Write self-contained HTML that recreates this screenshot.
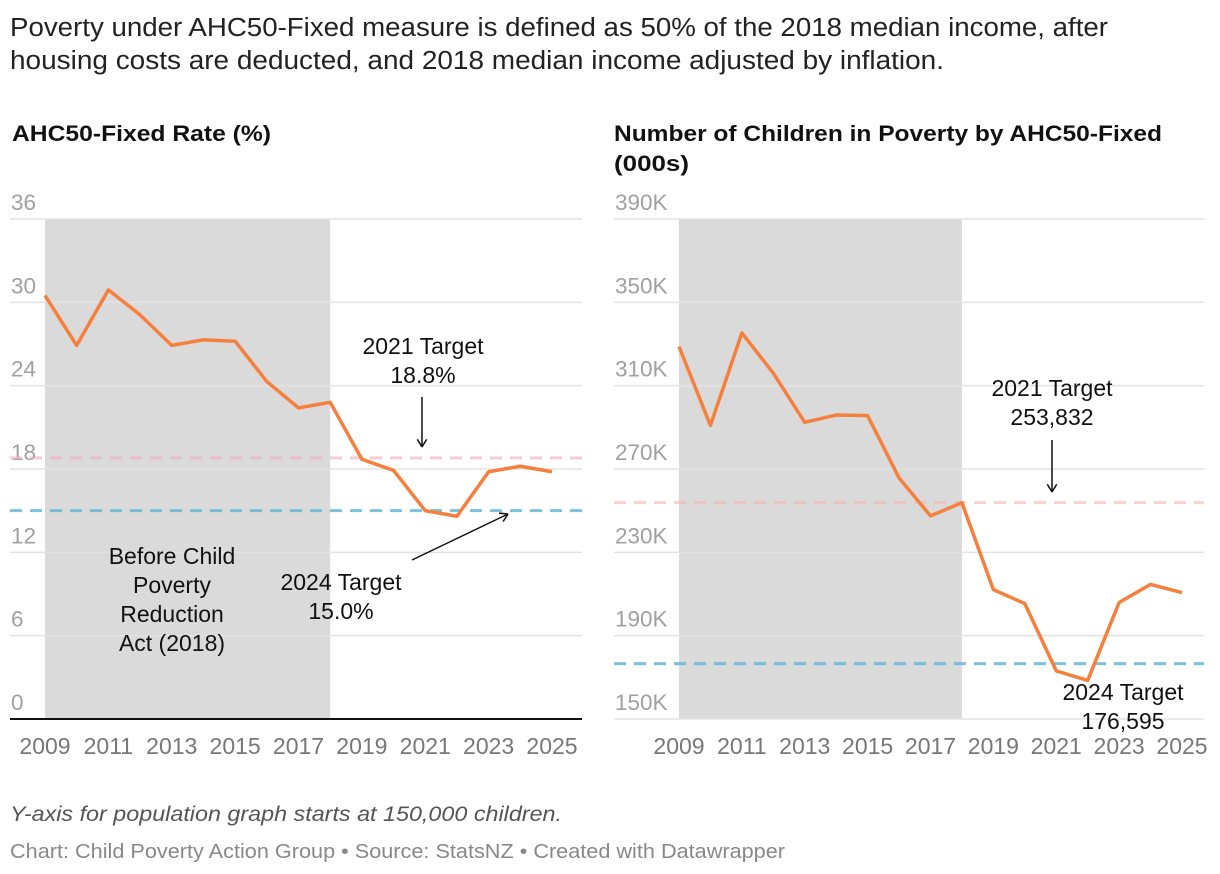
<!DOCTYPE html>
<html><head><meta charset="utf-8"><style>
body{margin:0;background:#fff;font-family:"Liberation Sans",sans-serif;}
svg{display:block}
</style></head><body>
<svg width="1220" height="874">
<text x="10" y="36" font-size="25.5" fill="#222" textLength="1098" lengthAdjust="spacingAndGlyphs">Poverty under AHC50-Fixed measure is defined as 50% of the 2018 median income, after</text>
<text x="10" y="69" font-size="25.5" fill="#222" textLength="934" lengthAdjust="spacingAndGlyphs">housing costs are deducted, and 2018 median income adjusted by inflation.</text>
<text x="12" y="141" font-size="22" font-weight="bold" fill="#111" textLength="259" lengthAdjust="spacingAndGlyphs">AHC50-Fixed Rate (%)</text>
<text x="614" y="141" font-size="22" font-weight="bold" fill="#111" textLength="548" lengthAdjust="spacingAndGlyphs">Number of Children in Poverty by AHC50-Fixed</text>
<text x="614" y="171" font-size="22" font-weight="bold" fill="#111" textLength="75" lengthAdjust="spacingAndGlyphs">(000s)</text>
<g id="left"></g>
<g id="right"></g>
<text x="10" y="821" font-size="21" font-style="italic" fill="#555" textLength="552" lengthAdjust="spacingAndGlyphs">Y-axis for population graph starts at 150,000 children.</text>
<text x="10" y="858" font-size="20" fill="#888" textLength="775" lengthAdjust="spacingAndGlyphs">Chart: Child Poverty Action Group • Source: StatsNZ • Created with Datawrapper</text>
</svg>
<script>
const years=[2009,2010,2011,2012,2013,2014,2015,2016,2017,2018,2019,2020,2021,2022,2023,2024,2025];
const rateValues=[30.5,26.9,30.9,29.1,26.9,27.3,27.2,24.3,22.4,22.8,18.7,17.9,15.0,14.6,17.8,18.2,17.8];
const countValues=[328.8,290.9,335.3,316.0,292.4,295.9,295.6,265.7,247.5,253.8,212.1,205.4,173.1,168.5,205.9,214.6,210.7];
const rateTicks=[0,6,12,18,24,30,36];
const countTicks=[150,190,230,270,310,350,390];
const xTickLabels=[2009,2011,2013,2015,2017,2019,2021,2023,2025];
const rateTargets=[18.8,15.0];
const countTargets=[253.832,176.595];
const NS="http://www.w3.org/2000/svg";
function mk(parent,tag,attrs,text){const e=document.createElementNS(NS,tag);for(const k in attrs)e.setAttribute(k,attrs[k]);if(text!==undefined)e.textContent=text;parent.appendChild(e);return e;}
function draw(gid,cfg){
  const g=document.getElementById(gid);
  const x=y=>cfg.x0+(y-2009)*(cfg.x1-cfg.x0)/16;
  const yS=v=>719-(v-cfg.min)*500/(cfg.max-cfg.min);
  const band=mk(g,'rect',{x:x(2009),y:219,width:x(2018)-x(2009),height:500,fill:'#dadada'});
  
  
  cfg.ticks.forEach(t=>{
    const l=mk(g,'line',{x1:cfg.gl,x2:cfg.gr,y1:yS(t),y2:yS(t),stroke:t===cfg.min&&cfg.base?'#111':'#e3e3e3','stroke-width':t===cfg.min&&cfg.base?2:1.5});
    
    
    const tx=mk(g,'text',{x:cfg.gl+1,y:yS(t)-9,'font-size':22.5,fill:'#a0a0a0'},cfg.fmt(t));
    
    
  });
  xTickLabels.forEach(yr=>{
    const tx=mk(g,'text',{x:x(yr),y:754,'font-size':23,fill:'#777','text-anchor':'middle'},yr);
    
    
  });
  const cols=['rgba(240,170,195,0.6)','rgba(100,185,215,0.85)'];
  if(gid==='right')cols[0]='rgba(250,180,170,0.6)';
  cfg.targets.forEach((t,i)=>{
    const l=mk(g,'line',{x1:cfg.gl,x2:cfg.gr,y1:yS(t),y2:yS(t),stroke:cols[i],'stroke-width':3,'stroke-dasharray':'12 8'});
    
    
  });
  const p=mk(g,'polyline',{points:cfg.vals.map((v,i)=>x(years[i])+','+yS(v)).join(' '),fill:'none',stroke:'#f5803e','stroke-width':3.5,'stroke-linejoin':'round'});
  
  
}
draw('left',{x0:45,x1:552,gl:10,gr:582,min:0,max:36,ticks:rateTicks,vals:rateValues,targets:rateTargets,fmt:t=>t,base:true});
draw('right',{x0:679,x1:1182,gl:614,gr:1204,min:150,max:390,ticks:countTicks,vals:countValues,targets:countTargets,fmt:t=>t+'K',base:false});
const L=document.getElementById('left'),R=document.getElementById('right');
function ann(g,name,lines,cx,y0){lines.forEach((s,i)=>{const t=mk(g,'text',{x:cx,y:y0+i*29,'font-size':23,fill:'#111','text-anchor':'middle'},s);});}
ann(L,'shaded-band-label',['Before Child','Poverty','Reduction','Act (2018)'],172,564);
ann(L,'target-2021-annotation',['2021 Target','18.8%'],423,354);
ann(L,'target-2024-annotation',['2024 Target','15.0%'],341,590);
ann(R,'target-2021-annotation',['2021 Target','253,832'],1052,396);
ann(R,'target-2024-annotation',['2024 Target','176,595'],1123,700);
function arrow(g,x1,y1,x2,y2){const a=mk(g,'g',{});
mk(a,'line',{x1,y1,x2,y2,stroke:'#111','stroke-width':1.5});
const ang=Math.atan2(y2-y1,x2-x1),s=9;
[0.55,-0.55].forEach(d=>mk(a,'line',{x1:x2,y1:y2,x2:x2-s*Math.cos(ang+d),y2:y2-s*Math.sin(ang+d),stroke:'#111','stroke-width':1.5}));}
arrow(L,422,397,422,447);
arrow(L,412,560,508,514);
arrow(R,1052,440,1052,492);
</script>
</body></html>
